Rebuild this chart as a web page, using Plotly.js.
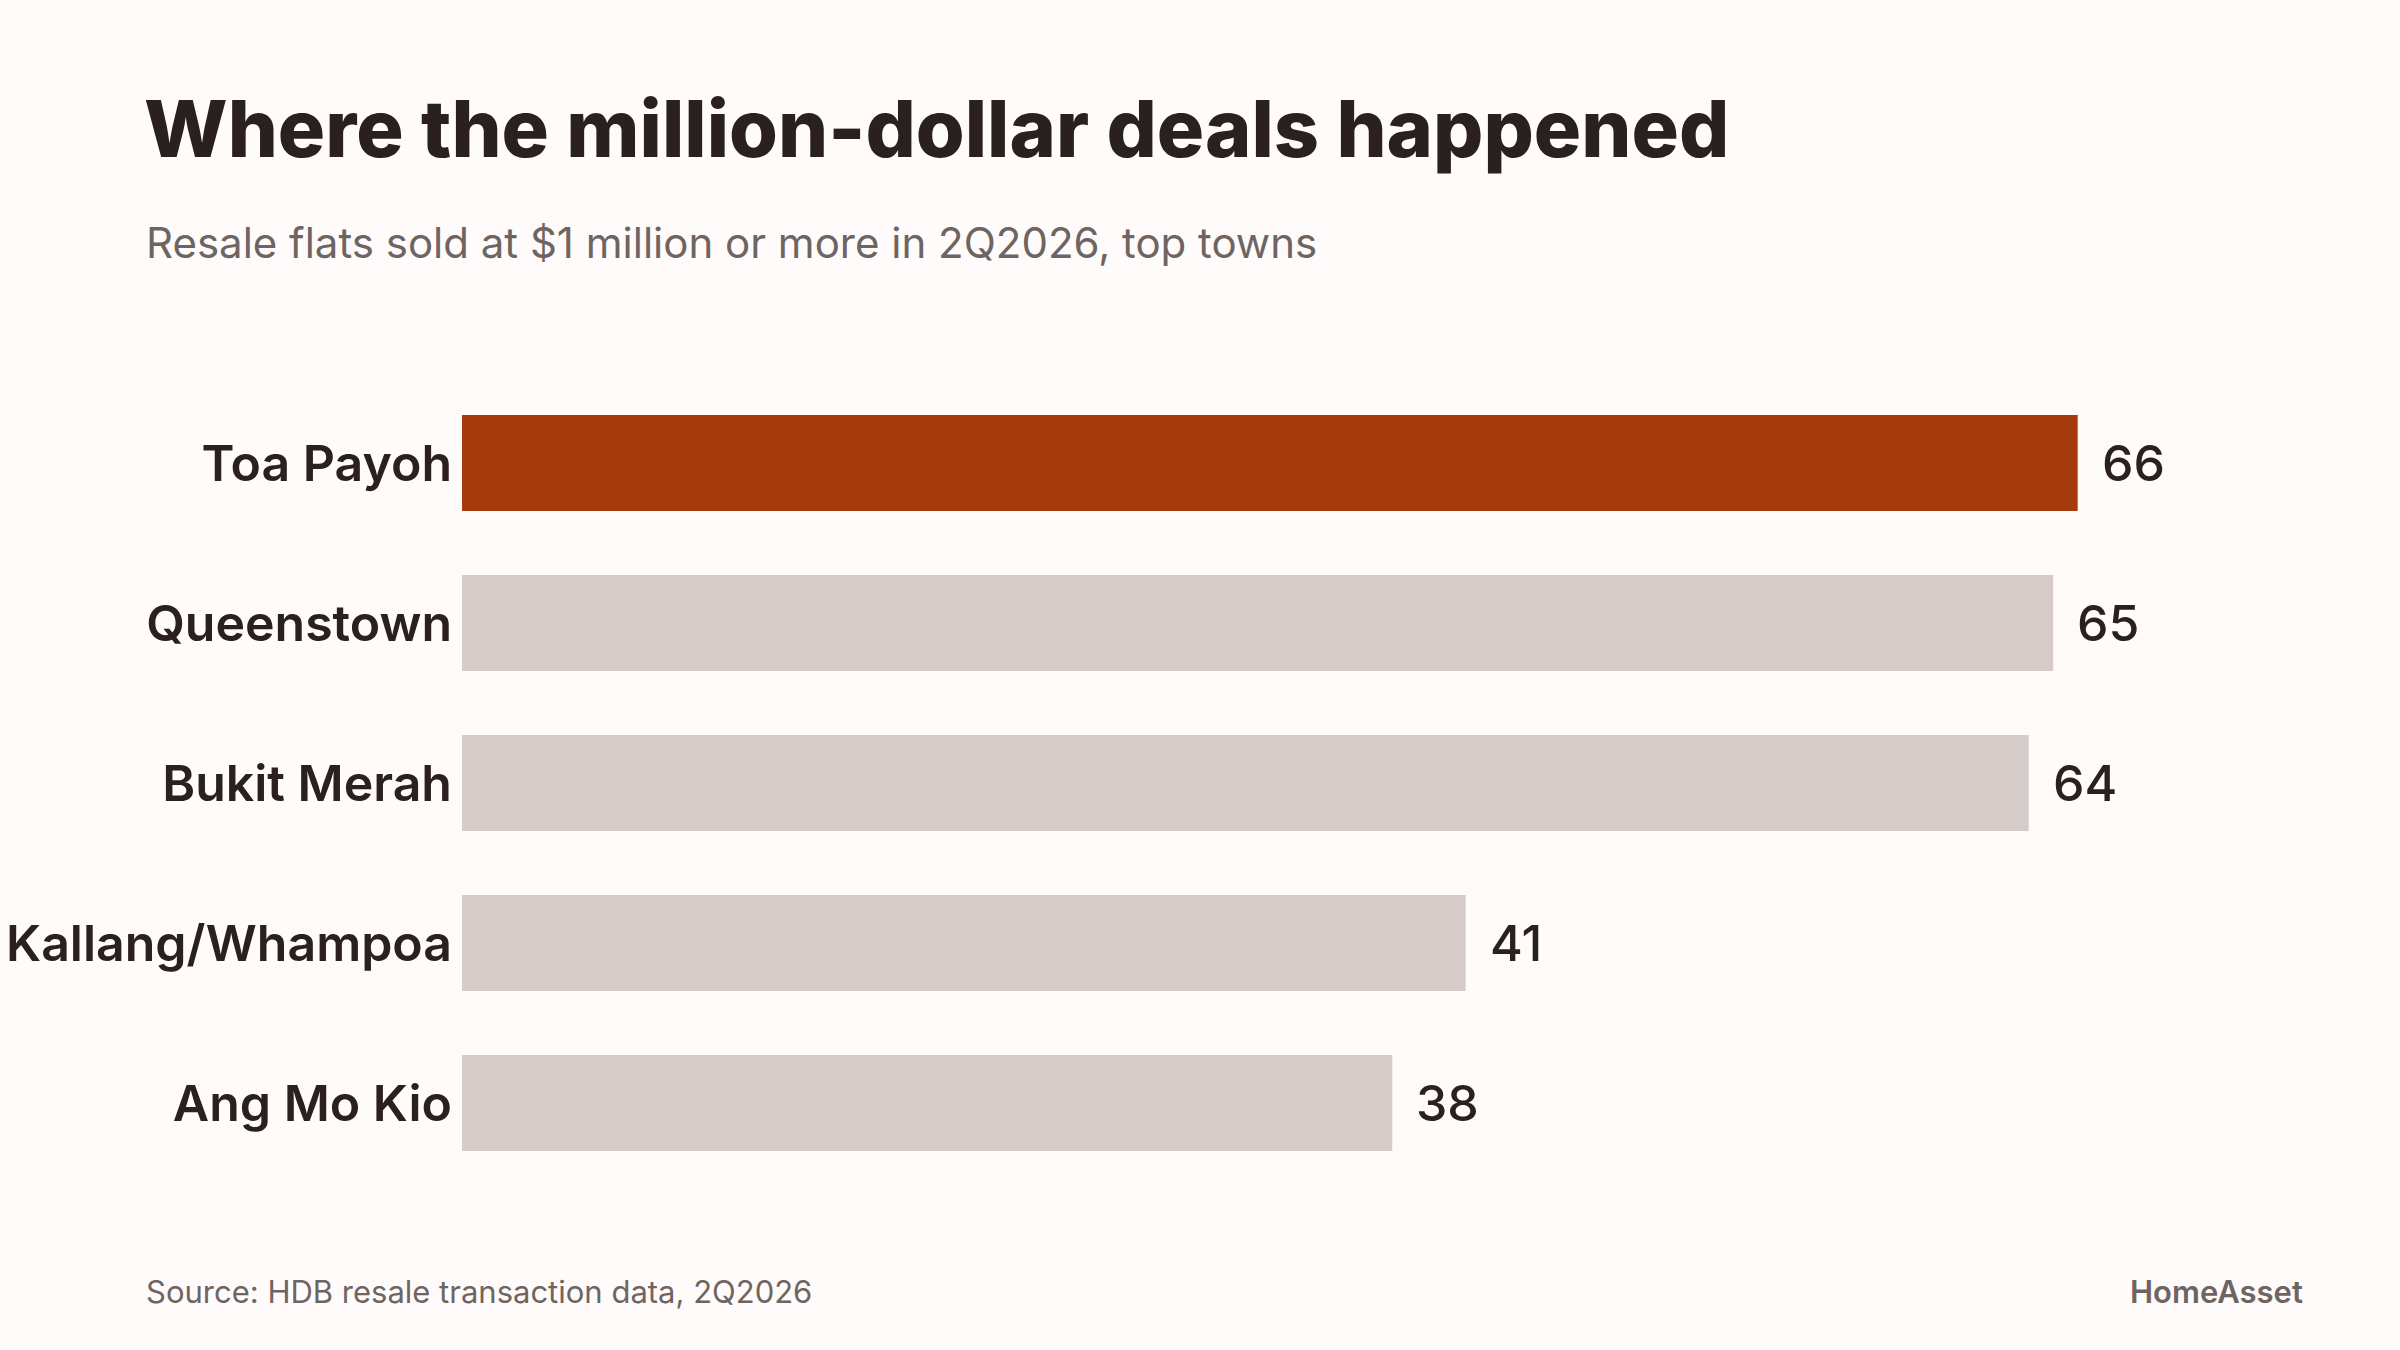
<!DOCTYPE html>
<html>
<head>
<meta charset="utf-8">
<script src="https://cdn.plot.ly/plotly-3.0.1.min.js"></script>
<style>
  html, body { margin: 0; padding: 0; background: #fffbfa; }
  #chart { width: 2400px; height: 1350px; }
</style>
</head>
<body>
<div id="chart"></div>
<script>
// Million-dollar resale flats by town, 2Q2026
const towns = ["Toa Payoh", "Queenstown", "Bukit Merah", "Kallang/Whampoa", "Ang Mo Kio"];
const deals = [66, 65, 64, 41, 38];
const highlightTown = "Toa Payoh";

const INK = "#2a201d";
const MUTED = "#6e6562";
const ACCENT = "#a53a0d";
const BASE = "#d5ccca";
const BG = "#fffbfa";

// plot box in pixels, used to place the text blocks around it
const W = 2400, H = 1350;
const M = { l: 462, r: 102, t: 383, b: 167 };
const plotW = W - M.l - M.r, plotH = H - M.t - M.b;
const px = v => (v - M.l) / plotW;
const py = v => (H - M.b - v) / plotH;

const barColors = towns.map(t => t === highlightTown ? ACCENT : BASE);

const trace = {
  type: "bar",
  orientation: "h",
  y: towns,
  x: deals,
  marker: { color: barColors, line: { width: 0 } },
  hoverinfo: "skip",
  cliponaxis: false
};

// value labels just past each bar end
const valueNotes = towns.map((t, i) => ({
  x: deals[i], y: t, xref: "x", yref: "y",
  text: String(deals[i]),
  showarrow: false, xanchor: "left", yanchor: "middle",
  xshift: 22,
  font: { family: "Inter, 'Noto Sans', sans-serif", size: 50, color: INK, weight: 500 }
}));

const textNotes = [
  {
    text: "Resale flats sold at $1 million or more in 2Q2026, top towns",
    x: px(144), y: py(242), xref: "paper", yref: "paper",
    xanchor: "left", yanchor: "middle", showarrow: false,
    font: { family: "Inter, 'Noto Sans', sans-serif", size: 42, color: MUTED, weight: 400 }
  },
  {
    text: "Source: HDB resale transaction data, 2Q2026",
    x: px(144), y: py(1291), xref: "paper", yref: "paper",
    xanchor: "left", yanchor: "middle", showarrow: false,
    font: { family: "Inter, 'Noto Sans', sans-serif", size: 31, color: MUTED, weight: 400 }
  },
  {
    text: "HomeAsset",
    x: px(2305), y: py(1291), xref: "paper", yref: "paper",
    xanchor: "right", yanchor: "middle", showarrow: false,
    font: { family: "Inter, 'Noto Sans', sans-serif", size: 31, color: MUTED, weight: 600 }
  }
];

const layout = {
  width: W, height: H,
  paper_bgcolor: BG, plot_bgcolor: BG,
  margin: M,
  showlegend: false,
  bargap: 0.4,
  title: {
    text: "Where the million-dollar deals happened",
    x: 144 / W, xref: "container", xanchor: "left",
    y: 1 - 129 / H, yref: "container", yanchor: "middle",
    font: { family: "Inter, 'Noto Sans', sans-serif", size: 79, color: INK, weight: 800 }
  },
  xaxis: {
    range: [0, 75],
    visible: false,
    fixedrange: true
  },
  yaxis: {
    type: "category",
    categoryorder: "array",
    categoryarray: towns,
    autorange: "reversed",
    showgrid: false, zeroline: false, showline: false,
    ticks: "", ticklabelstandoff: 9,
    tickfont: { family: "Inter, 'Noto Sans', sans-serif", size: 50, color: INK, weight: 600 },
    fixedrange: true
  },
  annotations: valueNotes.concat(textNotes)
};

Plotly.newPlot("chart", [trace], layout, { displayModeBar: false, staticPlot: true });
</script>
</body>
</html>
